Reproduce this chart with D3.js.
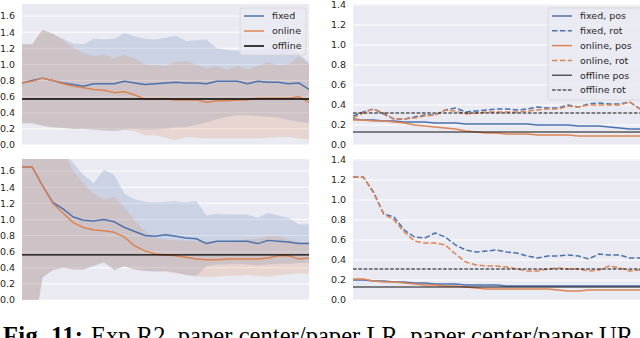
<!DOCTYPE html>
<html>
<head>
<meta charset="utf-8">
<script src="https://cdn.jsdelivr.net/npm/d3@7"></script>
<style>
  body { margin: 0; background: #fff; }
  svg { display: block; }
</style>
</head>
<body>
<svg id="chart" width="640" height="338"></svg>
<script>
// ---- data ----
var leftTicks = [0.0, 0.2, 0.4, 0.6, 0.8, 1.0, 1.2, 1.4, 1.6];
var rightTicks = [0.0, 0.2, 0.4, 0.6, 0.8, 1.0, 1.2, 1.4];

// top left: error, mean + band
var tlFixed    = [0.77,0.80,0.83,0.80,0.77,0.75,0.73,0.76,0.76,0.76,0.79,0.77,0.75,0.76,0.77,0.78,0.77,0.77,0.76,0.79,0.79,0.79,0.76,0.79,0.78,0.78,0.76,0.77,0.69];
var tlFixedHi  = [1.25,1.25,1.43,1.38,1.32,1.26,1.25,1.32,1.31,1.32,1.39,1.35,1.32,1.31,1.33,1.36,1.29,1.30,1.31,1.20,1.18,1.17,1.17,1.18,1.20,1.20,1.20,1.14,1.02];
var tlFixedLo  = [0.27,0.27,0.24,0.22,0.21,0.20,0.20,0.19,0.18,0.17,0.19,0.20,0.19,0.19,0.20,0.22,0.22,0.25,0.28,0.32,0.35,0.37,0.37,0.36,0.35,0.34,0.31,0.29,0.27];
var tlOnline   = [0.77,0.79,0.83,0.80,0.76,0.73,0.71,0.69,0.68,0.65,0.66,0.62,0.57,0.57,0.57,0.56,0.56,0.56,0.53,0.55,0.55,0.56,0.56,0.58,0.58,0.58,0.58,0.60,0.53];
var tlOnlineHi = [1.25,1.25,1.43,1.38,1.30,1.21,1.14,1.10,1.12,1.07,1.12,1.07,1.00,0.99,0.98,1.03,1.04,1.00,0.95,0.98,0.93,0.98,0.94,0.98,1.03,0.99,1.00,1.10,1.00];
var tlOnlineLo = [0.27,0.27,0.24,0.22,0.21,0.20,0.20,0.19,0.18,0.18,0.19,0.17,0.12,0.12,0.09,0.06,0.10,0.09,0.08,0.08,0.08,0.08,0.08,0.08,0.09,0.10,0.10,0.08,0.07];
var tlOffline  = 0.57;

// bottom left
var blFixed    = [1.65,1.65,1.42,1.21,1.13,1.03,0.99,0.98,1.00,0.97,0.90,0.85,0.80,0.79,0.81,0.79,0.77,0.76,0.70,0.73,0.73,0.73,0.73,0.70,0.74,0.73,0.72,0.70,0.70];
var blFixedHi  = [2.20,2.20,2.10,2.00,1.85,1.70,1.55,1.45,1.62,1.55,1.32,1.25,1.22,1.21,1.22,1.23,1.21,1.23,1.05,1.07,1.06,1.06,1.06,1.02,1.08,1.05,1.02,0.94,0.94];
var blFixedLo  = [-0.5,-0.5,0.28,0.37,0.40,0.38,0.38,0.42,0.47,0.37,0.42,0.38,0.36,0.35,0.36,0.34,0.31,0.30,0.42,0.44,0.44,0.45,0.44,0.43,0.44,0.45,0.45,0.46,0.46];
var blOnline   = [1.65,1.65,1.42,1.20,1.08,0.96,0.90,0.87,0.86,0.84,0.78,0.67,0.61,0.57,0.56,0.55,0.53,0.51,0.50,0.50,0.51,0.51,0.51,0.51,0.52,0.55,0.55,0.51,0.52];
var blOnlineHi = [2.20,2.20,2.10,2.00,1.85,1.60,1.45,1.32,1.25,1.28,1.15,0.98,0.85,0.77,0.75,0.74,0.74,0.73,0.73,0.73,0.73,0.74,0.75,0.76,0.79,0.79,0.75,0.72,0.72];
var blOnlineLo = [-0.5,-0.5,0.28,0.37,0.40,0.38,0.38,0.43,0.47,0.38,0.42,0.38,0.36,0.36,0.35,0.33,0.31,0.29,0.29,0.29,0.30,0.30,0.31,0.30,0.29,0.31,0.32,0.33,0.33];
var blOffline  = 0.56;

// top right: pos / rot
var trFixedPos  = [0.26,0.25,0.25,0.24,0.24,0.23,0.23,0.23,0.22,0.22,0.22,0.21,0.21,0.21,0.21,0.21,0.21,0.21,0.20,0.20,0.20,0.20,0.19,0.19,0.19,0.18,0.17,0.16,0.16];
var trFixedRot  = [0.29,0.33,0.36,0.31,0.26,0.26,0.28,0.30,0.30,0.35,0.37,0.33,0.34,0.35,0.36,0.36,0.35,0.36,0.38,0.37,0.37,0.40,0.38,0.41,0.42,0.41,0.41,0.43,0.36];
var trOnlinePos = [0.25,0.25,0.24,0.24,0.23,0.22,0.20,0.19,0.18,0.17,0.16,0.14,0.13,0.12,0.12,0.11,0.11,0.11,0.10,0.10,0.10,0.10,0.09,0.09,0.09,0.09,0.09,0.09,0.09];
var trOnlineRot = [0.27,0.32,0.36,0.32,0.26,0.26,0.27,0.29,0.30,0.35,0.34,0.31,0.32,0.33,0.33,0.33,0.33,0.34,0.35,0.36,0.36,0.39,0.38,0.40,0.40,0.40,0.40,0.43,0.36];
var trOffPos = 0.13, trOffRot = 0.32;

// bottom right
var brFixedPos  = [0.20,0.20,0.19,0.19,0.18,0.18,0.17,0.17,0.16,0.16,0.16,0.15,0.15,0.15,0.15,0.14,0.14,0.14,0.14,0.14,0.14,0.14,0.14,0.14,0.14,0.14,0.14,0.14,0.14];
var brFixedRot  = [1.23,1.23,1.08,0.86,0.83,0.70,0.63,0.62,0.67,0.63,0.55,0.50,0.48,0.49,0.50,0.48,0.47,0.44,0.42,0.44,0.44,0.45,0.44,0.41,0.46,0.45,0.45,0.42,0.42];
var brOnlinePos = [0.21,0.21,0.19,0.18,0.18,0.17,0.16,0.15,0.15,0.14,0.14,0.13,0.12,0.11,0.11,0.11,0.11,0.11,0.11,0.11,0.10,0.09,0.09,0.10,0.10,0.10,0.10,0.10,0.10];
var brOnlineRot = [1.23,1.23,1.07,0.86,0.80,0.68,0.59,0.57,0.57,0.55,0.46,0.38,0.35,0.34,0.34,0.33,0.31,0.29,0.29,0.31,0.32,0.31,0.31,0.29,0.30,0.34,0.32,0.29,0.30];
var brOffPos = 0.13, brOffRot = 0.31;

var caption = ["Fig. 11:", "Exp R2, paper center/paper LR, paper center/paper UR"];

// ---- styles ----
var blue = "#4c72b0", orange = "#dd8452";
var font = "'DejaVu Sans', sans-serif";
var dash = "5.5,2.4", dashThin = "3.7,1.6";

var svg = d3.select("#chart");

var panels = [
  { id: "tl", x0: 22, x1: 309, y0: 4, y1: 145, max: 1.75, ticks: leftTicks,
    bands: [[tlFixedLo, tlFixedHi, blue], [tlOnlineLo, tlOnlineHi, orange]],
    lines: [[tlFixed, blue, null, 1.5], [tlOnline, orange, null, 1.5]],
    hlines: [[tlOffline, "#000", null, 1.5]],
    legend: { x: 240, y: 8, w: 66, h: 47, rowH: 15, lineW: 20, items: [
      ["fixed", blue, null, 1.5], ["online", orange, null, 1.5], ["offline", "#000", null, 1.5]] } },
  { id: "bl", x0: 22, x1: 309, y0: 159, y1: 300, max: 1.75, ticks: leftTicks,
    bands: [[blFixedLo, blFixedHi, blue], [blOnlineLo, blOnlineHi, orange]],
    lines: [[blFixed, blue, null, 1.5], [blOnline, orange, null, 1.5]],
    hlines: [[blOffline, "#000", null, 1.2]] },
  { id: "tr", x0: 353, x1: 640, y0: 4, y1: 145, max: 1.41, ticks: rightTicks,
    bands: [],
    lines: [[trFixedPos, blue, null, 1.5], [trFixedRot, blue, dash, 1.5],
            [trOnlinePos, orange, null, 1.5], [trOnlineRot, orange, dash, 1.5]],
    hlines: [[trOffPos, "#111", null, 1], [trOffRot, "#111", dashThin, 1]],
    legend: { x: 548, y: 8, w: 100, h: 92, rowH: 14.8, lineW: 20, items: [
      ["fixed, pos", blue, null, 1.5], ["fixed, rot", blue, dash, 1.5],
      ["online, pos", orange, null, 1.5], ["online, rot", orange, dash, 1.5],
      ["offline pos", "#111", null, 1], ["offline rot", "#111", dashThin, 1]] } },
  { id: "br", x0: 353, x1: 640, y0: 159, y1: 300, max: 1.41, ticks: rightTicks,
    bands: [],
    lines: [[brFixedPos, blue, null, 1.5], [brFixedRot, blue, dash, 1.5],
            [brOnlinePos, orange, null, 1.5], [brOnlineRot, orange, dash, 1.5]],
    hlines: [[brOffPos, "#111", null, 1], [brOffRot, "#111", dashThin, 1]] }
];

panels.forEach(drawPanel);

function drawPanel(p) {
  var n = p.lines[0][0].length;
  var x = d3.scaleLinear().domain([0, n - 1]).range([p.x0, p.x1]);
  var y = d3.scaleLinear().domain([0, p.max]).range([p.y1, p.y0]);

  var g = svg.append("g");
  g.append("clipPath").attr("id", "clip-" + p.id)
    .append("rect").attr("x", p.x0).attr("y", p.y0)
    .attr("width", p.x1 - p.x0).attr("height", p.y1 - p.y0);

  g.append("rect").attr("x", p.x0).attr("y", p.y0)
    .attr("width", p.x1 - p.x0).attr("height", p.y1 - p.y0)
    .attr("fill", "#eaeaf2");

  g.selectAll(".grid").data(p.ticks).enter().append("line")
    .attr("x1", p.x0).attr("x2", p.x1)
    .attr("y1", function(d) { return y(d); }).attr("y2", function(d) { return y(d); })
    .attr("stroke", "#fff").attr("stroke-width", 1);

  g.selectAll(".tick").data(p.ticks).enter().append("text")
    .attr("x", p.x0 - 7).attr("y", function(d) { return y(d); })
    .attr("dy", "0.35em").attr("text-anchor", "end")
    .attr("font-family", font).attr("font-size", 9.5).attr("fill", "#262626")
    .text(function(d) { return d3.format(".1f")(d); });

  var plot = g.append("g").attr("clip-path", "url(#clip-" + p.id + ")");

  p.bands.forEach(function(b) {
    var area = d3.area()
      .x(function(d, i) { return x(i); })
      .y0(function(d, i) { return y(b[0][i]); })
      .y1(function(d, i) { return y(b[1][i]); });
    plot.append("path").datum(b[0]).attr("d", area)
      .attr("fill", b[2]).attr("fill-opacity", 0.2);
  });

  var line = d3.line().x(function(d, i) { return x(i); }).y(function(d) { return y(d); });
  p.lines.forEach(function(l) {
    plot.append("path").datum(l[0]).attr("d", line)
      .attr("fill", "none").attr("stroke", l[1]).attr("stroke-width", l[3])
      .attr("stroke-dasharray", l[2]).attr("stroke-linejoin", "round");
  });

  p.hlines.forEach(function(h) {
    plot.append("line").attr("x1", p.x0).attr("x2", p.x1)
      .attr("y1", y(h[0])).attr("y2", y(h[0]))
      .attr("stroke", h[1]).attr("stroke-width", h[3]).attr("stroke-dasharray", h[2]);
  });

  if (p.legend) {
    var L = p.legend;
    var lg = g.append("g");
    lg.append("rect").attr("x", L.x).attr("y", L.y).attr("width", L.w).attr("height", L.h)
      .attr("rx", 2).attr("fill", "#eaeaf2").attr("fill-opacity", 0.8)
      .attr("stroke", "#d6d6d6").attr("stroke-width", 0.8);
    L.items.forEach(function(it, i) {
      var yy = L.y + 8 + i * L.rowH;
      lg.append("line").attr("x1", L.x + 4).attr("x2", L.x + 4 + L.lineW)
        .attr("y1", yy).attr("y2", yy)
        .attr("stroke", it[1]).attr("stroke-width", it[3]).attr("stroke-dasharray", it[2]);
      lg.append("text").attr("x", L.x + 4 + L.lineW + 8).attr("y", yy).attr("dy", "0.35em")
        .attr("font-family", font).attr("font-size", 9.5).attr("fill", "#262626")
        .text(it[0]);
    });
  }
}

// caption, cut off by the bottom edge as in the source figure
var capFont = "'Liberation Serif', 'Times New Roman', serif";
svg.append("text").attr("x", 3).attr("y", 344)
  .attr("font-family", capFont).attr("font-size", 24.5).attr("font-weight", "bold")
  .attr("textLength", 80).attr("lengthAdjust", "spacing")
  .text(caption[0]);
svg.append("text").attr("x", 91).attr("y", 344)
  .attr("font-family", capFont).attr("font-size", 24.5)
  .attr("textLength", 542).attr("lengthAdjust", "spacing")
  .text(caption[1]);
</script>
</body>
</html>
